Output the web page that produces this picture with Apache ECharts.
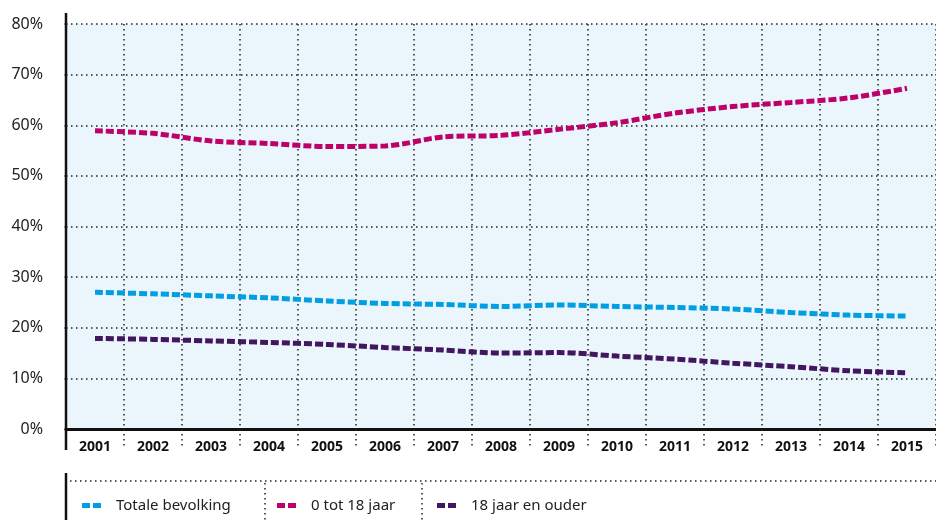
<!DOCTYPE html>
<html><head><meta charset="utf-8">
<script src="https://cdn.jsdelivr.net/npm/echarts@6/dist/echarts.min.js"></script>
<style>html,body{margin:0;padding:0;background:#fff}#c{width:936px;height:520px}</style>
</head><body><div id="c"></div>
<script>
const years = ['2001','2002','2003','2004','2005','2006','2007','2008','2009','2010','2011','2012','2013','2014','2015'];
const seriesNames = ['Totale bevolking','0 tot 18 jaar','18 jaar en ouder'];
const totaal = [27.0,26.7,26.3,25.9,25.3,24.8,24.6,24.2,24.5,24.2,24.0,23.7,23.0,22.5,22.3];
const jong   = [58.9,58.4,56.9,56.4,55.8,55.9,57.7,58.0,59.2,60.5,62.4,63.7,64.5,65.4,67.3];
const oud    = [17.9,17.7,17.4,17.1,16.7,16.1,15.6,15.0,15.1,14.4,13.8,13.0,12.3,11.5,11.1];
const colors = ['#009FE3','#BE0069','#43175F'];

const dotted = {color:'#222', width:1.5, type:[1.5,3.5]};
const icon = 'path://M0,0H8V5H0Z M11,0H19V5H11Z';
function mkLegend(i, left){
  return {data:[seriesNames[i]], left:left, top:498, icon:icon, itemWidth:19, itemHeight:5,
    padding:0, textStyle:{fontFamily:'Noto Sans', fontSize:15, color:'#222', padding:[0,0,0,10]}, selectedMode:false};
}
function mkSeries(i, data){
  return {name:seriesNames[i], type:'line', data:data, smooth:0.3, symbol:'none', color:colors[i],
    lineStyle:{width:5, type:[8,3], color:colors[i]}, z:5};
}
const chart = echarts.init(document.getElementById('c'), null, {renderer:'canvas'});
chart.setOption({
  animation:false,
  grid:{left:66, top:24, width:875, height:405, show:true, backgroundColor:'#EBF6FC', borderWidth:0},
  xAxis:{type:'category', data:years, boundaryGap:true,
    axisLine:{show:true, lineStyle:{color:'#111', width:3}},
    axisTick:{show:true, length:18, interval:0, lineStyle:dotted},
    splitLine:{show:true, interval:0, lineStyle:dotted},
    axisLabel:{interval:0, margin:11, fontFamily:'Open Sans', fontWeight:'bold', fontSize:14, color:'#111'}},
  yAxis:{type:'value', min:0, max:80, interval:10,
    axisLine:{show:false},
    axisTick:{show:true, length:5, lineStyle:dotted},
    splitLine:{show:true, lineStyle:dotted},
    axisLabel:{margin:23, fontFamily:'Noto Sans', fontSize:16, color:'#222', formatter:'{value}%'}},
  legend:[mkLegend(0,82), mkLegend(1,277), mkLegend(2,437)],
  graphic:[
    {type:'line', shape:{x1:66,y1:13,x2:66,y2:450}, style:{stroke:'#111', lineWidth:2.5}, z:10},
    {type:'line', shape:{x1:66,y1:473,x2:66,y2:520}, style:{stroke:'#111', lineWidth:2.5}, z:10},
    {type:'line', shape:{x1:70,y1:481,x2:936,y2:481}, style:{stroke:'#222', lineWidth:1.5, lineDash:[1.5,3.5]}},
    {type:'line', shape:{x1:265,y1:483,x2:265,y2:520}, style:{stroke:'#222', lineWidth:1.5, lineDash:[1.5,3.5]}},
    {type:'line', shape:{x1:422,y1:483,x2:422,y2:520}, style:{stroke:'#222', lineWidth:1.5, lineDash:[1.5,3.5]}}
  ],
  series:[mkSeries(0,totaal), mkSeries(1,jong), mkSeries(2,oud)]
});
</script></body></html>
